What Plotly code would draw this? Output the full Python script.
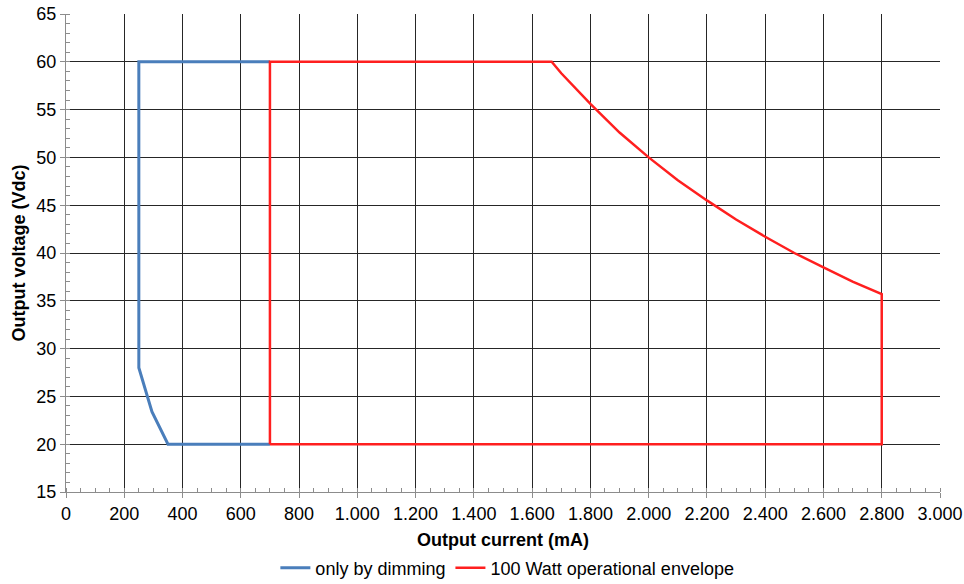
import plotly.graph_objects as go

# Data
dim_current = [700, 250, 250, 295, 350, 700]          # mA
dim_voltage = [60, 60, 28, 23.4, 20, 20]               # Vdc

env_current = [700, 700, 1667, 1700, 1800, 1900, 2000, 2100, 2200, 2300,
               2400, 2500, 2600, 2700, 2800, 2800, 700]
env_voltage = [20, 60, 60, 58.8, 55.6, 52.6, 50, 47.6, 45.5, 43.5,
               41.7, 40, 38.5, 37, 35.7, 20, 20]

x_ticks = [0, 200, 400, 600, 800, 1000, 1200, 1400, 1600, 1800, 2000,
           2200, 2400, 2600, 2800, 3000]
x_tick_labels = ["0", "200", "400", "600", "800", "1.000", "1.200", "1.400",
                 "1.600", "1.800", "2.000", "2.200", "2.400", "2.600",
                 "2.800", "3.000"]
y_ticks = [15, 20, 25, 30, 35, 40, 45, 50, 55, 60, 65]

FONT = "Liberation Sans, Arial, sans-serif"

fig = go.Figure()
fig.add_trace(go.Scatter(x=dim_current, y=dim_voltage, mode="lines",
                         name="only by dimming",
                         line=dict(color="#4A7EBB", width=3)))
fig.add_trace(go.Scatter(x=env_current, y=env_voltage, mode="lines",
                         name="100 Watt operational envelope",
                         line=dict(color="#FF1F1F", width=2.5)))

fig.update_layout(
    width=964, height=584,
    margin=dict(l=66, r=24, t=14, b=92, autoexpand=False),
    paper_bgcolor="white", plot_bgcolor="white",
    font=dict(family=FONT, size=18, color="black"),
    showlegend=True,
    legend=dict(orientation="h", x=0.505, xanchor="center", y=-0.159,
                yanchor="middle", font=dict(size=18), itemwidth=30,
                tracegroupgap=0),
)
fig.update_xaxes(
    range=[0, 3000], tickvals=x_ticks, ticktext=x_tick_labels,
    automargin=False,
    showgrid=True, gridcolor="#262626", gridwidth=1,
    showline=True, linecolor="#8c8c8c", linewidth=1,
    ticks="outside", ticklen=5, tickcolor="#8c8c8c",
    minor=dict(dtick=50, ticks="inside", ticklen=4, tickcolor="#8c8c8c",
               showgrid=False),
    zeroline=False,
    title=dict(text="<b>Output current (mA)</b>", font=dict(size=18),
               standoff=10),
    tickfont=dict(size=18),
)
fig.update_yaxes(
    range=[15, 65], tickvals=y_ticks,
    automargin=False,
    showgrid=True, gridcolor="#262626", gridwidth=1,
    showline=True, linecolor="#8c8c8c", linewidth=1,
    ticks="outside", ticklen=5, tickcolor="#8c8c8c",
    minor=dict(dtick=1, ticks="inside", ticklen=4, tickcolor="#8c8c8c",
               showgrid=False),
    zeroline=False,
    title=dict(text="<b>Output voltage (Vdc)</b>", font=dict(size=18),
               standoff=6),
    tickfont=dict(size=18),
)

fig.write_html("out.html",
               config={"displayModeBar": False},
               post_script="document.body.style.margin='0px';")
